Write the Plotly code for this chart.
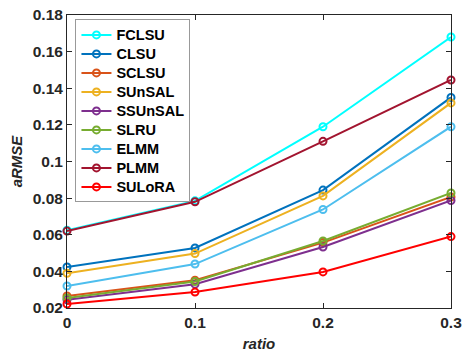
import plotly.graph_objects as go

ratio = [0, 0.1, 0.2, 0.3]
methods = ["FCLSU", "CLSU", "SCLSU", "SUnSAL", "SSUnSAL", "SLRU", "ELMM", "PLMM", "SULoRA"]
FCLSU = [0.0625, 0.0785, 0.119, 0.168]
CLSU = [0.0424, 0.0528, 0.0844, 0.135]
SCLSU = [0.0266, 0.0352, 0.0557, 0.0806]
SUnSAL = [0.039, 0.0497, 0.0812, 0.132]
SSUnSAL = [0.0245, 0.0330, 0.0533, 0.0787]
SLRU = [0.0255, 0.0345, 0.0566, 0.0828]
ELMM = [0.032, 0.0440, 0.0738, 0.119]
PLMM = [0.062, 0.0780, 0.111, 0.1445]
SULoRA = [0.0222, 0.0287, 0.0397, 0.0590]
series = [FCLSU, CLSU, SCLSU, SUnSAL, SSUnSAL, SLRU, ELMM, PLMM, SULoRA]
colors = ["#00FFFF", "#0072BD", "#D95319", "#EDB120", "#7E2F8E", "#77AC30", "#4DBEEE", "#A2142F", "#FF0000"]

yticks = [0.02, 0.04, 0.06, 0.08, 0.1, 0.12, 0.14, 0.16, 0.18]
ytext = ["0.02", "0.04", "0.06", "0.08", "0.1", "0.12", "0.14", "0.16", "0.18"]
xticks = [0, 0.1, 0.2, 0.3]
xtext = ["0", "0.1", "0.2", "0.3"]

fig = go.Figure()
for name, vals, c in zip(methods, series, colors):
    fig.add_trace(go.Scatter(
        x=ratio, y=vals, name='<span style="font-size:14.5px">' + name + '</span>',
        mode="lines+markers",
        line=dict(color=c, width=2),
        marker=dict(symbol="circle-open", size=7, color=c, line=dict(width=2)),
        cliponaxis=False,
    ))

font = "Liberation Sans, Arial, sans-serif"
fig.update_layout(
    width=463, height=352,
    margin=dict(l=67, r=12, t=15, b=44),
    paper_bgcolor="white", plot_bgcolor="white",
    font=dict(family=font, color="#262626"),
    showlegend=True,
    legend=dict(
        x=0.022, y=0.985, xanchor="left", yanchor="top",
        bgcolor="white", bordercolor="#999999", borderwidth=1,
        font=dict(size=12.3, family=font, color="black", weight="bold"),
        tracegroupgap=0, itemwidth=30,
    ),
    xaxis=dict(
        range=[0, 0.3], tickvals=xticks, ticktext=xtext, automargin=False,
        showgrid=False, zeroline=False, showline=True, linecolor="#262626", linewidth=1,
        mirror="ticks", ticks="inside", ticklen=5, tickcolor="#262626",
        tickfont=dict(size=15.5, family=font, weight="bold", color="#262626"),
        title=dict(text="<b><i>ratio</i></b>", font=dict(size=15, family=font, color="#262626"), standoff=8),
    ),
    yaxis=dict(
        range=[0.02, 0.18], tickvals=yticks, ticktext=ytext, automargin=False,
        showgrid=False, zeroline=False, showline=True, linecolor="#262626", linewidth=1,
        mirror="ticks", ticks="inside", ticklen=5, tickcolor="#262626",
        tickfont=dict(size=15.5, family=font, weight="bold", color="#262626"),
        title=dict(text="<b><i>aRMSE</i></b>", font=dict(size=15, family=font, color="#262626"), standoff=6),
    ),
)
fig.write_html("out.html", config={"displayModeBar": False},
               post_script="document.body.style.margin='0';")
